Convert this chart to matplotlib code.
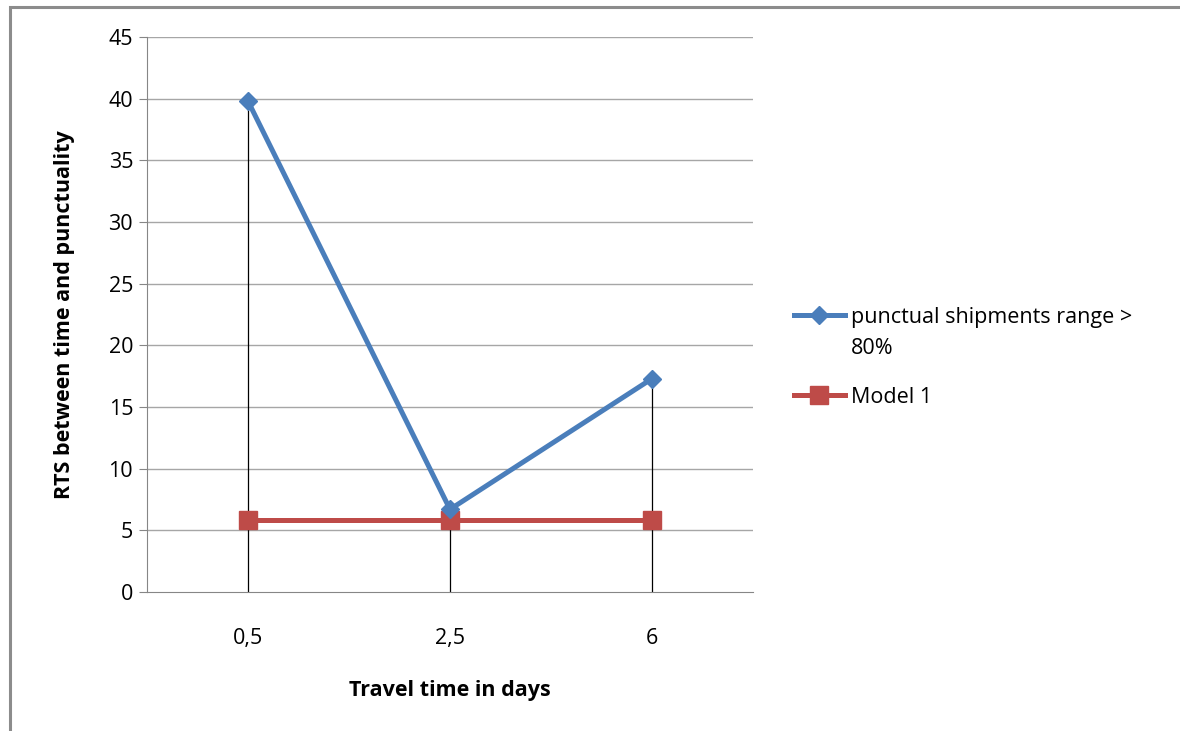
import matplotlib
matplotlib.use("Agg")
from matplotlib import pyplot as plt
from matplotlib.patches import Rectangle

plt.rcParams['font.family'] = ['Open Sans', 'DejaVu Sans']

categories = ["0,5", "2,5", "6"]
punctual = [39.8, 6.7, 17.3]
model1 = [5.8, 5.8, 5.8]
yticks = [0, 5, 10, 15, 20, 25, 30, 35, 40, 45]

blue = "#4A7EBB"
red = "#BE4B48"

fig = plt.figure(figsize=(11.8, 7.31), dpi=100)
ax = fig.add_axes([147/1180, 1 - 592/731, 606/1180, 555/731])

x = list(range(len(categories)))

# grid
for t in yticks[1:]:
    ax.axhline(t, color="#A6A6A6", lw=1.0, zorder=0)

# drop lines
for i in x:
    top = max(punctual[i], model1[i])
    ax.plot([i, i], [0, top], color="black", lw=0.9, zorder=1)

ax.plot(x, punctual, color=blue, lw=3.6, marker="D", markersize=9,
        markerfacecolor=blue, markeredgecolor=blue, zorder=3,
        label="punctual shipments range >")
ax.plot(x, model1, color=red, lw=3.6, marker="s", markersize=13,
        markerfacecolor=red, markeredgecolor=red, zorder=2,
        label="Model 1")

ax.set_xlim(-0.5, 2.5)
ax.set_ylim(0, 45)
ax.set_xticks(x)
ax.set_xticklabels(categories, fontsize=15.5)
ax.set_yticks(yticks)
ax.tick_params(axis="y", labelsize=15.5, length=6, color="#868686", pad=4)
ax.tick_params(axis="x", length=0, pad=26)

for s in ["top", "right"]:
    ax.spines[s].set_visible(False)
ax.spines["left"].set_color("#868686")
ax.spines["bottom"].set_color("#868686")

ax.set_xlabel("Travel time in days", fontsize=15.5, fontweight="bold", labelpad=22)
ax.set_ylabel("RTS between time and punctuality", fontsize=15.5, fontweight="bold", labelpad=24)

leg = ax.legend(loc="center left", bbox_to_anchor=(1.035, 0.423), frameon=False,
                fontsize=15.5, handlelength=2.4, handletextpad=0.25, labelspacing=2.75)
# wrapped second line of the first legend label
ax.annotate("80%", xy=(0, 0.5), xycoords=leg.get_texts()[0],
            xytext=(0, -31), textcoords="offset pixels",
            ha="left", va="center", fontsize=15.5, zorder=10)

# outer chart border
fig.patches.append(Rectangle((10/1180, -0.1), 1.2, 1.1 - 7/731, transform=fig.transFigure,
                             fill=False, edgecolor="#8C8C8C", lw=2.2))

fig.savefig("out.png", dpi=100)
